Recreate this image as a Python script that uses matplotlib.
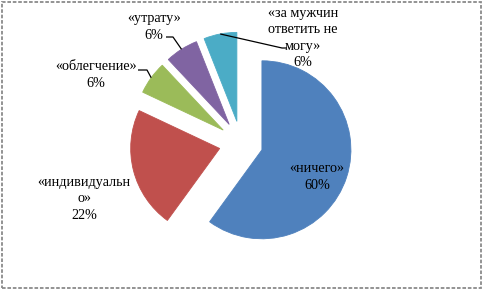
import numpy as np
import matplotlib
matplotlib.use("Agg")
import matplotlib.pyplot as plt
from matplotlib.patches import Rectangle

labels = ["«ничего»", "«индивидуальн\nо»", "«облегчение»", "«утрату»", "«за мужчин\nответить не\nмогу»"]
values = [60, 22, 6, 6, 6]
pct_labels = ["60%", "22%", "6%", "6%", "6%"]
colors = ["#4F81BD", "#C0504D", "#9BBB59", "#8064A2", "#4BACC6"]

W, H = 482, 289
fig = plt.figure(figsize=(W / 100, H / 100), dpi=100)
ax = fig.add_axes([0, 0, 1, 1])

cx, cy = 241, H - 143
R = 89
EXP = 22
wedges, _ = ax.pie(values, startangle=90, counterclock=False, colors=colors,
                   radius=R, center=(cx, cy), explode=[EXP] * len(values),
                   wedgeprops=dict(linewidth=0.6), frame=True)
for w, c in zip(wedges, colors):
    w.set_edgecolor(c)
ax.set_xlim(0, W)
ax.set_ylim(0, H)
ax.set_aspect("equal")
ax.axis("off")

font = dict(family="Liberation Serif", fontsize=10.2, color="black",
            ha="center", va="center", linespacing=1.32)

# label block centres (pixel coords, y from top)
label_pos = [(317, 177), (84, 199), (96, 75), (154, 27), (303, 38)]
for lab, pct, (px, py) in zip(labels, pct_labels, label_pos):
    ax.text(px, H - py, lab + "\n" + pct, **font)

# leader lines from wedge outer midpoints
def outer_mid(w):
    t = np.deg2rad((w.theta1 + w.theta2) / 2)
    x0, y0 = w.center
    return x0 + w.r * np.cos(t), y0 + w.r * np.sin(t)

leaders = {2: [(138, 70), (147, 70)], 3: [(166, 37), (173, 37)], 4: [(287, 48), (282, 48)]}
for i, pts in leaders.items():
    mx, my = outer_mid(wedges[i])
    xs = [p[0] for p in pts] + [mx]
    ys = [H - p[1] for p in pts] + [my]
    ax.plot(xs, ys, color="black", linewidth=0.9, solid_capstyle="butt")

fig.patches.append(Rectangle((1.5 / W, 1.5 / H), (W - 3) / W, (H - 3) / H,
                             transform=fig.transFigure, fill=False,
                             edgecolor="#8a8a8a", linewidth=1.3,
                             linestyle=(0, (2, 1))))

fig.savefig("out.png", dpi=100)
